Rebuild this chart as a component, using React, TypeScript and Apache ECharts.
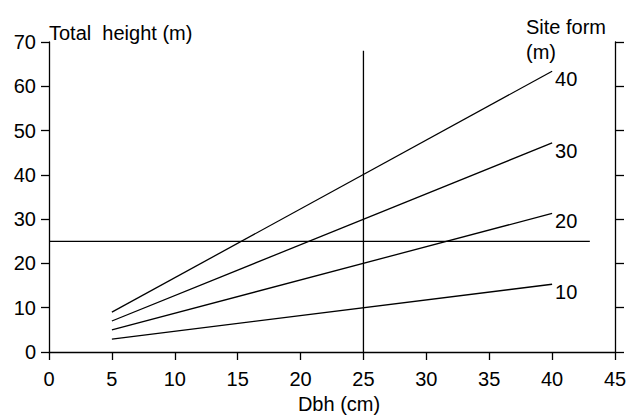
import React, { useEffect, useRef } from "react";
import * as echarts from "echarts";

const xTicks = { min: 0, max: 45, interval: 5 };
const yTicks = { min: 0, max: 70, interval: 10 };
const siteForms = ["40", "30", "20", "10"];
const dbhEnds = [5, 40];
const heightAt5 = [9.0, 7.0, 5.0, 2.9];
const heightAt40 = [63.4, 47.2, 31.3, 15.3];
const hLine = [[0, 25], [43, 25]];
const vLine = [[25, 0], [25, 68]];

const FONT = "Liberation Sans, Arial, Helvetica, sans-serif";

export default function App() {
  const ref = useRef<HTMLDivElement>(null);
  useEffect(() => {
    if (!ref.current) return;
    const chart = echarts.init(ref.current, null, { renderer: "svg" });
    const axisLine = { show: true, lineStyle: { color: "#000", width: 1.3 } };
    const siteSeries = siteForms.map((name, i) => ({
      name,
      type: "line",
      xAxisIndex: 0,
      yAxisIndex: 0,
      symbol: "none",
      lineStyle: { color: "#000", width: 1.3 },
      data: [
        [dbhEnds[0], heightAt5[i]],
        [dbhEnds[1], heightAt40[i]],
      ],
      endLabel: {
        show: true,
        formatter: name,
        color: "#000",
        fontSize: 20,
        fontFamily: FONT,
        distance: 3,
        offset: [0, 8],
      },
    }));
    chart.setOption({
      animation: false,
      grid: { left: 49, right: 14, top: 42, bottom: 67, containLabel: false, outerBoundsMode: "none" },
      xAxis: {
        type: "value",
        min: xTicks.min,
        max: xTicks.max,
        interval: xTicks.interval,
        name: "Dbh (cm)",
        nameLocation: "middle",
        nameGap: 42,
        nameTextStyle: { color: "#000", fontSize: 20, fontFamily: FONT, padding: [0, 0, 0, 14] },
        axisLine,
        axisTick: { show: true, length: 8, lineStyle: { color: "#000", width: 1.3 } },
        axisLabel: { color: "#000", fontSize: 20, fontFamily: FONT, margin: 17 },
        splitLine: { show: false },
      },
      yAxis: [
        {
          type: "value",
          min: yTicks.min,
          max: yTicks.max,
          interval: yTicks.interval,
          name: "Total  height (m)",
          nameLocation: "end",
          nameGap: 9,
          nameTextStyle: { color: "#000", fontSize: 20, fontFamily: FONT, align: "left", verticalAlign: "middle" },
          axisLine,
          axisTick: { show: true, length: 8, lineStyle: { color: "#000", width: 1.3 } },
          axisLabel: { color: "#000", fontSize: 20, fontFamily: FONT, margin: 13 },
          splitLine: { show: false },
        },
        {
          type: "value",
          position: "right",
          min: yTicks.min,
          max: yTicks.max,
          interval: yTicks.interval,
          axisLine,
          axisTick: { show: true, length: 9, lineStyle: { color: "#000", width: 1.3 } },
          axisLabel: { show: false },
          splitLine: { show: false },
        },
      ],
      graphic: [
        {
          type: "text",
          left: 526,
          top: 14,
          style: {
            text: "Site form\n(m)",
            fill: "#000",
            font: `20px ${FONT}`,
            lineHeight: 25,
          },
        },
      ],
      series: [
        ...siteSeries,
        {
          type: "line",
          symbol: "none",
          lineStyle: { color: "#000", width: 1.3 },
          data: hLine,
        },
        {
          type: "line",
          symbol: "none",
          lineStyle: { color: "#000", width: 1.3 },
          data: vLine,
        },
      ],
    });
    return () => chart.dispose();
  }, []);
  return (
    <div
      ref={ref}
      style={{ position: "fixed", left: 0, top: 0, width: 629, height: 419, background: "#fff" }}
    />
  );
}
